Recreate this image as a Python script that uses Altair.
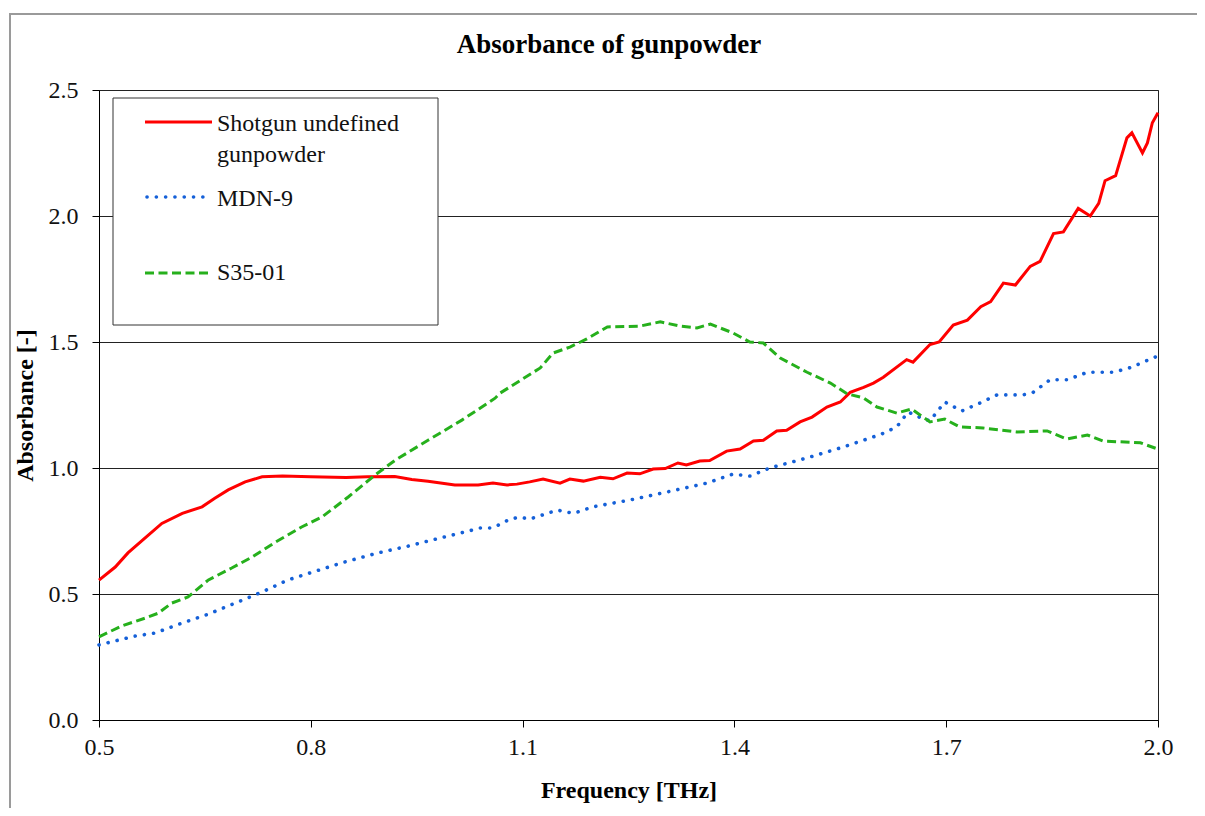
import altair as alt
import pandas as pd

# ---- data ----
red_x = [0.500, 0.523, 0.541, 0.565, 0.589, 0.618, 0.646, 0.664, 0.683, 0.707, 0.731,
         0.760, 0.800, 0.850, 0.880, 0.919, 0.943, 0.966, 1.004, 1.037, 1.058, 1.078,
         1.092, 1.110, 1.129, 1.153, 1.167, 1.186, 1.210, 1.228, 1.248, 1.266, 1.285,
         1.302, 1.320, 1.332, 1.351, 1.365, 1.389, 1.408, 1.427, 1.441, 1.460, 1.474,
         1.493, 1.510, 1.531, 1.550, 1.564, 1.583, 1.597, 1.611, 1.644, 1.653, 1.677,
         1.690, 1.710, 1.730, 1.749, 1.763, 1.781, 1.798, 1.819, 1.833, 1.852, 1.866,
         1.887, 1.904, 1.916, 1.925, 1.940, 1.956, 1.963, 1.978, 1.985, 1.992, 2.000]
red_y = [0.555, 0.607, 0.663, 0.722, 0.780, 0.820, 0.846, 0.880, 0.913, 0.945, 0.965,
         0.968, 0.965, 0.962, 0.965, 0.966, 0.954, 0.947, 0.933, 0.933, 0.940, 0.933,
         0.936, 0.945, 0.956, 0.940, 0.956, 0.948, 0.963, 0.957, 0.980, 0.977, 0.996,
         0.998, 1.020, 1.012, 1.028, 1.030, 1.067, 1.075, 1.107, 1.110, 1.147, 1.150,
         1.183, 1.202, 1.242, 1.262, 1.300, 1.320, 1.337, 1.360, 1.430, 1.420, 1.490,
         1.500, 1.567, 1.587, 1.640, 1.660, 1.734, 1.726, 1.800, 1.820, 1.930, 1.937,
         2.030, 2.000, 2.050, 2.140, 2.160, 2.310, 2.330, 2.250, 2.290, 2.370, 2.410]

blue_x = [0.500, 0.551, 0.579, 0.618, 0.655, 0.693, 0.731, 0.768, 0.806, 0.848, 0.895,
          0.938, 0.980, 1.018, 1.040, 1.058, 1.082, 1.096, 1.110, 1.149, 1.172, 1.200,
          1.252, 1.305, 1.361, 1.398, 1.422, 1.450, 1.503, 1.554, 1.607, 1.630, 1.646,
          1.665, 1.677, 1.698, 1.722, 1.748, 1.772, 1.809, 1.823, 1.847, 1.871, 1.900,
          1.937, 1.963, 1.975, 2.000]
blue_y = [0.298, 0.333, 0.345, 0.385, 0.420, 0.464, 0.508, 0.556, 0.590, 0.627, 0.663,
          0.690, 0.720, 0.746, 0.762, 0.762, 0.797, 0.805, 0.797, 0.833, 0.820, 0.846,
          0.873, 0.905, 0.940, 0.976, 0.968, 1.000, 1.040, 1.083, 1.133, 1.163, 1.222,
          1.198, 1.187, 1.262, 1.226, 1.258, 1.290, 1.290, 1.300, 1.350, 1.350, 1.380,
          1.380, 1.400, 1.415, 1.445]

green_x = [0.500, 0.532, 0.565, 0.584, 0.603, 0.626, 0.655, 0.688, 0.717, 0.750, 0.787,
           0.816, 0.853, 0.891, 0.919, 0.966, 1.014, 1.061, 1.068, 1.125, 1.143, 1.167,
           1.191, 1.220, 1.266, 1.295, 1.323, 1.347, 1.366, 1.398, 1.422, 1.441, 1.465,
           1.503, 1.536, 1.560, 1.583, 1.602, 1.630, 1.651, 1.677, 1.698, 1.719, 1.752,
           1.800, 1.843, 1.871, 1.900, 1.922, 1.975, 2.000]
green_y = [0.330, 0.373, 0.404, 0.424, 0.464, 0.488, 0.556, 0.603, 0.647, 0.706, 0.766,
           0.806, 0.885, 0.972, 1.030, 1.110, 1.190, 1.277, 1.297, 1.397, 1.456, 1.480,
           1.512, 1.560, 1.563, 1.580, 1.563, 1.556, 1.571, 1.536, 1.500, 1.496, 1.436,
           1.380, 1.337, 1.294, 1.278, 1.242, 1.218, 1.234, 1.183, 1.194, 1.163, 1.159,
           1.143, 1.147, 1.115, 1.131, 1.107, 1.100, 1.075]

chart_title = "Absorbance of gunpowder"
series_names = ["Shotgun undefined gunpowder", "MDN-9", "S35-01"]
legend_lines = [["Shotgun undefined", "gunpowder"], ["MDN-9"], ["S35-01"]]
x_ticks = [0.5, 0.8, 1.1, 1.4, 1.7, 2.0]
y_ticks = [0.0, 0.5, 1.0, 1.5, 2.0, 2.5]

W, H = 1059, 630
FONT = "Liberation Serif"

frames = []
for name, xs, ys in [(series_names[0], red_x, red_y),
                     (series_names[1], blue_x, blue_y),
                     (series_names[2], green_x, green_y)]:
    frames.append(pd.DataFrame({"freq": xs, "abs": ys, "series": name}))
df = pd.concat(frames, ignore_index=True)

xscale = alt.Scale(domain=[0.5, 2.0], nice=False, zero=False)
yscale = alt.Scale(domain=[0.0, 2.5], nice=False)

xenc = alt.X("freq:Q", scale=xscale,
             axis=alt.Axis(values=x_ticks, format=".1f", title="Frequency [THz]",
                           grid=False, tickSize=7, labelPadding=8, labelFlush=False,
                           labelOverlap=False,
                           titleX=W / 2, titleY=70, titleBaseline="middle",
                           titleAlign="center"))
yenc = alt.Y("abs:Q", scale=yscale,
             axis=alt.Axis(values=y_ticks, format=".1f", title="Absorbance [-]",
                           grid=True, tickSize=7, labelPadding=14, labelFlush=False,
                           labelOverlap=False,
                           titleX=-74, titleY=H / 2, titleAngle=-90,
                           titleBaseline="middle", titleAlign="center"))

base = alt.Chart(df)

red = base.transform_filter(alt.datum.series == series_names[0]).mark_line(
    color="#FF0000", strokeWidth=3).encode(x=xenc, y=yenc)
blue = base.transform_filter(alt.datum.series == series_names[1]).mark_line(
    color="#1560D8", strokeWidth=3.6, strokeDash=[0.1, 9.2], strokeCap="round").encode(x=xenc, y=yenc)
green = base.transform_filter(alt.datum.series == series_names[2]).mark_line(
    color="#26B01C", strokeWidth=3, strokeDash=[9, 4.5]).encode(x=xenc, y=yenc)

dummy = alt.Data(values=[{"k": 1}])

outer = alt.Chart(dummy).mark_rect(fill=None, stroke="#9a9a9a", strokeWidth=2).encode(
    x=alt.value(-89), x2=alt.value(W + 200), y=alt.value(-76), y2=alt.value(H + 200))

title_mark = alt.Chart(dummy).mark_text(
    font=FONT, fontSize=27, fontWeight="bold", align="center", baseline="alphabetic",
    color="#000000").encode(x=alt.value(510), y=alt.value(-37), text=alt.value(chart_title))

box = alt.Chart(dummy).mark_rect(fill="white", stroke="#333333", strokeWidth=1).encode(
    x=alt.value(14), x2=alt.value(339), y=alt.value(8), y2=alt.value(235))

leg_red = alt.Chart(dummy).mark_rule(color="#FF0000", strokeWidth=3).encode(
    x=alt.value(46), x2=alt.value(113), y=alt.value(32))
leg_blue = alt.Chart(dummy).mark_rule(color="#1560D8", strokeWidth=3.6,
                                      strokeDash=[0.1, 9.2], strokeCap="round").encode(
    x=alt.value(48), x2=alt.value(113), y=alt.value(107))
leg_green = alt.Chart(dummy).mark_rule(color="#26B01C", strokeWidth=3,
                                       strokeDash=[9, 4.5]).encode(
    x=alt.value(46), x2=alt.value(113), y=alt.value(183))

leg_texts = []
for lines, yb in zip(legend_lines, [41, 116, 190]):
    leg_texts.append(alt.Chart(dummy).mark_text(
        font=FONT, fontSize=24, align="left", baseline="alphabetic",
        lineHeight=31, color="#111111").encode(
        x=alt.value(118), y=alt.value(yb), text=alt.value(lines)))

chart = alt.layer(outer, title_mark, red, blue, green, box, leg_red, leg_blue, leg_green,
                  *leg_texts).properties(
    width=W, height=H,
    background="white",
    padding={"left": 91, "top": 82, "right": 39, "bottom": 88},
    autosize=alt.AutoSizeParams(type="none"),
).configure_view(stroke="#222222", strokeWidth=1).configure_axis(
    domainColor="#000000", tickColor="#000000", gridColor="#222222",
    labelFont=FONT, labelFontSize=24, labelColor="#111111",
    titleFont=FONT, titleFontSize=24, titleFontWeight="bold", titleColor="#000000",
)

chart.save("out.html", embed_options={"renderer": "svg", "actions": False})
